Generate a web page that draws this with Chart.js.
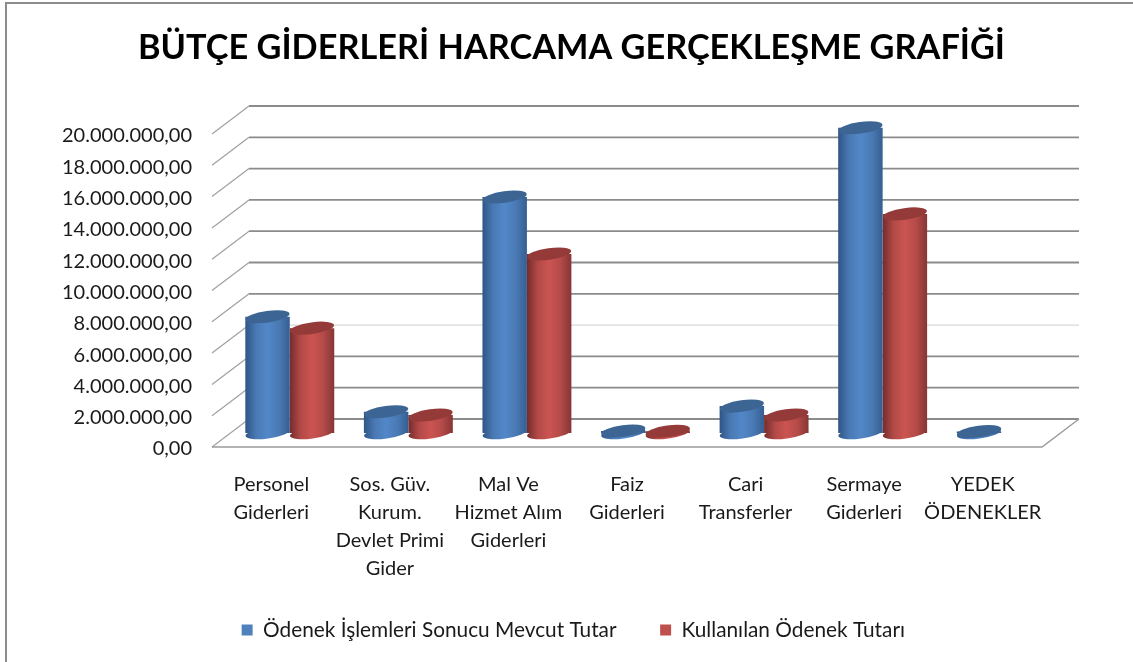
<!DOCTYPE html>
<html lang="tr"><head><meta charset="utf-8">
<style>html,body{margin:0;padding:0;background:#fff}canvas{display:block}</style>
<script src="https://cdn.jsdelivr.net/npm/chart.js@4/dist/chart.umd.min.js"></script>
</head><body><canvas id="c" width="1133" height="662"></canvas>
<script>
const chartTitle = 'BÜTÇE GİDERLERİ HARCAMA GERÇEKLEŞME GRAFİĞİ';
const categories = [
  ['Personel','Giderleri'],
  ['Sos. Güv.','Kurum.','Devlet Primi','Gider'],
  ['Mal Ve','Hizmet Alım','Giderleri'],
  ['Faiz','Giderleri'],
  ['Cari','Transferler'],
  ['Sermaye','Giderleri'],
  ['YEDEK','ÖDENEKLER']
];
const seriesNames = ['Ödenek İşlemleri Sonucu Mevcut Tutar','Kullanılan Ödenek Tutarı'];
const mevcutTutar = [7430000,1360000,15080000,130000,1720000,19500000,100000];
const kullanilanTutar = [6700000,1150000,11440000,110000,1150000,14000000,0];
const axisMax = 20000000, axisStep = 2000000;

const FONT = 'Lato, Carlito, "Open Sans", sans-serif';
const DX = 37, DY = 28, BARDX = 18.5, BARDY = 14;
const AREA = {left:212,right:1042,top:134,bottom:447};
const TXT = '#1a1a1a';
const palette = [
  {base:'#4f81bd', stops:['#2f5586','#4a7ab5','#5287c8','#4a7ab5','#365f92'], top:'#3c6594'},
  {base:'#c0504d', stops:['#752c2b','#b34a48','#cb5451','#b54b49','#863635'], top:'#943b39'}
];
const fmt = v => {
  const s = String(Math.round(v)).replace(/\B(?=(\d{3})+$)/g,'.');
  return s === '0' ? '0,00' : s + ',00';
};
function barFill(ds){
  return ctx => {
    const p = palette[ds];
    if (ctx.dataIndex === undefined) return p.base;
    const xs = ctx.chart.scales.x;
    if (!xs) return p.base;
    const w = xs.width / categories.length * 0.375;
    const cx = xs.getPixelForValue(ctx.dataIndex) + (ds === 0 ? -w/2 : w/2);
    if (!isFinite(cx) || !isFinite(w)) return p.base;
    const g = ctx.chart.ctx.createLinearGradient(cx - w/2, 0, cx + w/2, 0);
    p.stops.forEach((c,i)=>g.addColorStop(i/(p.stops.length-1), c));
    return g;
  };
}
const cylinder3d = {
  id:'cylinder3d',
  beforeDatasetsDraw(chart){
    const c = chart.ctx, {left,right} = chart.chartArea, y = chart.scales.y;
    c.save();
    y.ticks.forEach(t=>{
      const py = y.getPixelForValue(t.value);
      const light = t.value === 6000000;
      c.strokeStyle = light ? '#cfcfcf' : '#8b8b8b';
      c.lineWidth = light ? 1 : 1.8;
      c.beginPath(); c.moveTo(left+DX,py-DY); c.lineTo(right+DX,py-DY); c.stroke();
      c.strokeStyle = '#a0a0a0'; c.lineWidth = 1.2;
      c.beginPath(); c.moveTo(left,py); c.lineTo(left+DX,py-DY); c.stroke();
    });
    const y0 = y.getPixelForValue(0);
    c.strokeStyle = '#9a9a9a'; c.lineWidth = 1.4;
    c.beginPath(); c.moveTo(left,y0); c.lineTo(right,y0); c.lineTo(right+DX,y0-DY); c.stroke();
    c.restore();
  },
  beforeDatasetDraw(chart,args){
    const c = chart.ctx, meta = chart.getDatasetMeta(args.index);
    c.save(); c.translate(BARDX,-BARDY);
    meta.data.forEach((b,i)=>{
      if (!chart.data.datasets[args.index].data[i]) return;
      c.fillStyle = b.options.backgroundColor;
      c.beginPath(); c.ellipse(b.x,b.base,b.width/2,5.5,-0.14,0,Math.PI*2); c.fill();
    });
  },
  afterDatasetDraw(chart,args){
    const c = chart.ctx, meta = chart.getDatasetMeta(args.index);
    meta.data.forEach((b,i)=>{
      if (!chart.data.datasets[args.index].data[i]) return;
      c.fillStyle = palette[args.index].top;
      c.beginPath(); c.ellipse(b.x,b.y,b.width/2,5.8,-0.14,0,Math.PI*2); c.fill();
    });
    c.restore();
  },
  afterLayout(chart){
    chart.legend.left = 0; chart.legend.right = 1146.6;
    chart.legend.top = 576;
    chart.legend.bottom = 662;
    chart.scales.x.bottom = 612;
    chart.titleBlock.left = 0; chart.titleBlock.right = 1143;
  },
  afterDraw(chart){
    const c = chart.ctx; c.save();
    c.strokeStyle='#8c8c8c'; c.lineWidth=2;
    c.beginPath(); c.moveTo(6,662); c.lineTo(6,3); c.lineTo(1133,3); c.stroke();
    c.restore();
  }
};
new Chart(document.getElementById('c'),{
  type:'bar',
  data:{labels:categories,datasets:[
    {label:seriesNames[0],data:mevcutTutar,backgroundColor:barFill(0),clip:false},
    {label:seriesNames[1],data:kullanilanTutar,backgroundColor:barFill(1),clip:false}
  ]},
  plugins:[cylinder3d],
  options:{
    responsive:false,animation:false,
    layout:{padding:{left:0,right:91,top:0,bottom:0}},
    datasets:{bar:{categoryPercentage:0.75,barPercentage:1,borderWidth:0}},
    plugins:{
      title:{display:true,text:chartTitle,color:'#000',font:{family:FONT,size:34.3,weight:'bold',lineHeight:1.2},padding:{top:27,bottom:134-27-41.16}},
      legend:{display:true,position:'bottom',labels:{boxWidth:11,boxHeight:11,padding:43.6,color:TXT,font:{family:FONT,size:20.8},
        generateLabels:()=>seriesNames.map((n,i)=>({text:n,fillStyle:palette[i].base,strokeStyle:palette[i].base,lineWidth:0,fontColor:TXT,datasetIndex:i,hidden:false}))}},
      tooltip:{enabled:false}
    },
    scales:{
      x:{grid:{display:false},border:{display:false},
        ticks:{color:TXT,padding:16,autoSkip:false,maxRotation:0,font:{family:FONT,size:20,lineHeight:1.4}},
        afterFit(s){s.height=662-AREA.bottom-s.chart.legend.height;}},
      y:{min:0,max:axisMax,grid:{display:false},border:{display:false},
        ticks:{stepSize:axisStep,color:TXT,padding:12,labelOffset:2,font:{family:FONT,size:20},callback:v=>fmt(v)},
        afterFit(s){s.width=AREA.left;}}
    }
  }
});
</script></body></html>
